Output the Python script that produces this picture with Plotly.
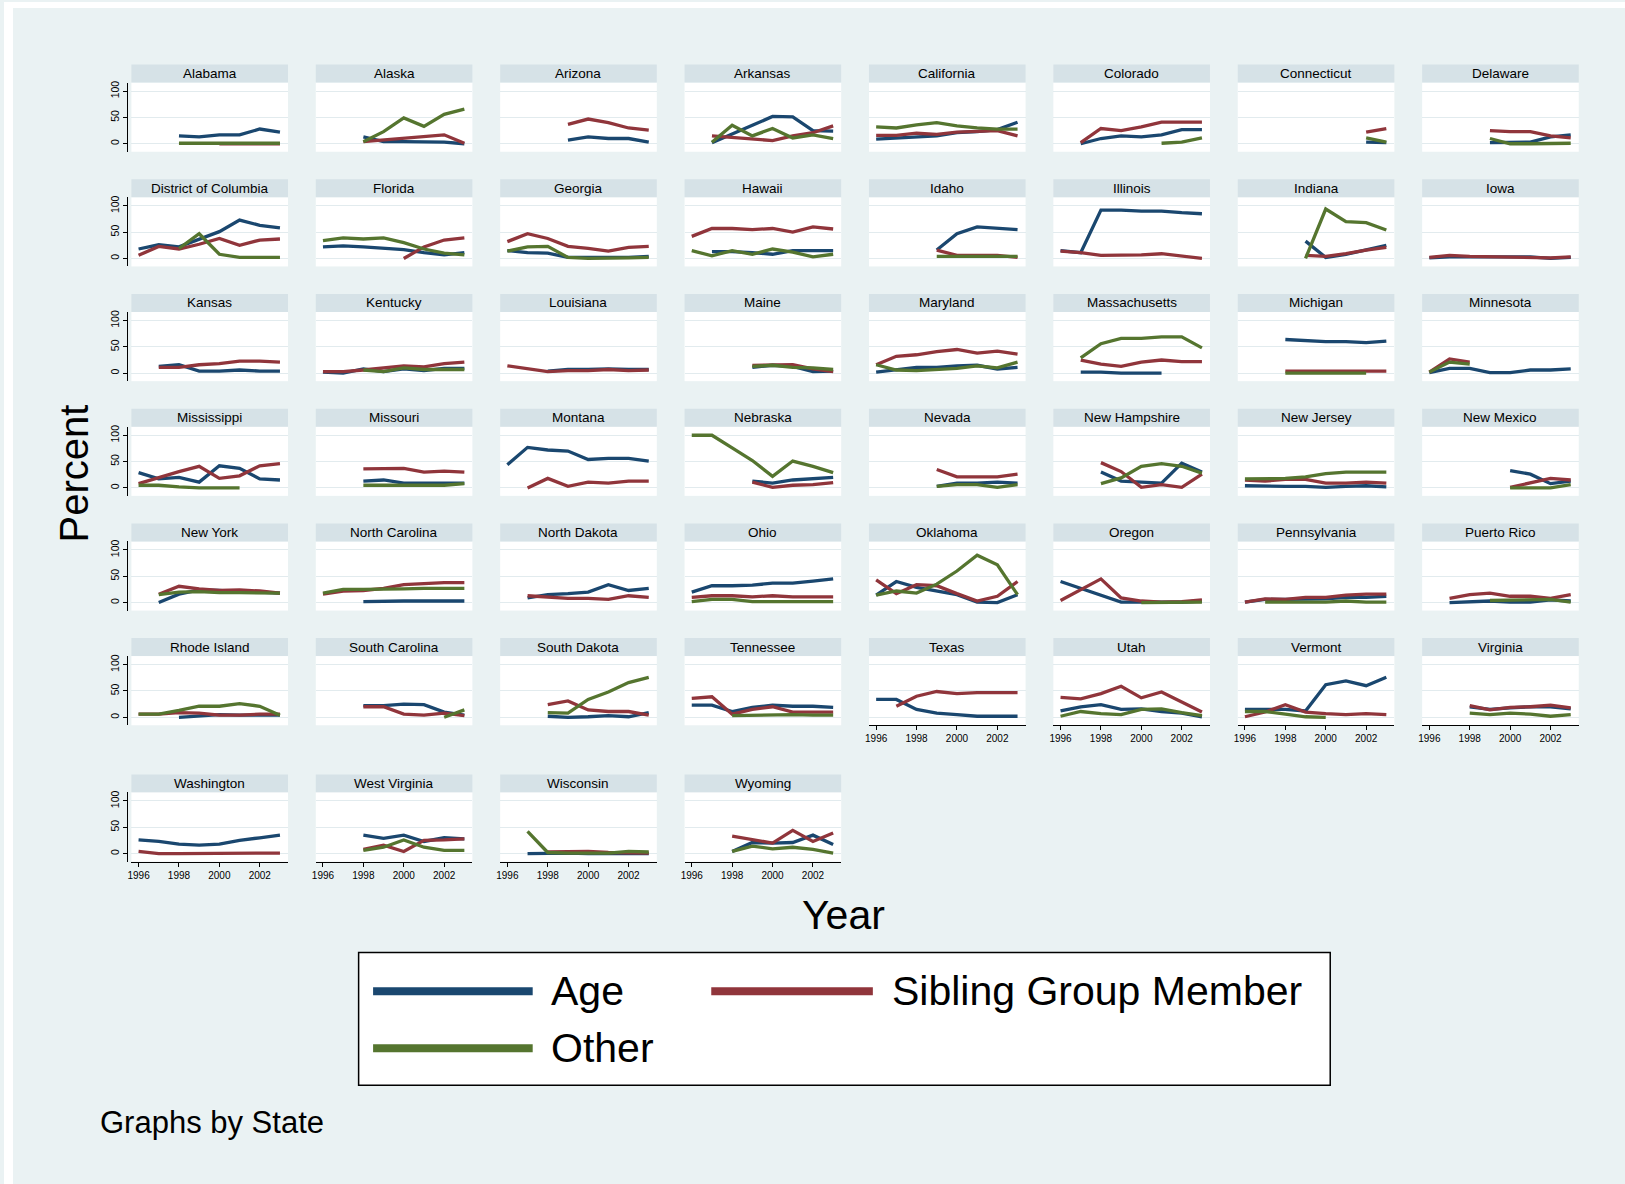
import plotly.graph_objects as go

N = None
YEARS = [1996, 1997, 1998, 1999, 2000, 2001, 2002, 2003]

STATES = [
    "Alabama", "Alaska", "Arizona", "Arkansas", "California", "Colorado", "Connecticut", "Delaware",
    "District of Columbia", "Florida", "Georgia", "Hawaii", "Idaho", "Illinois", "Indiana", "Iowa",
    "Kansas", "Kentucky", "Louisiana", "Maine", "Maryland", "Massachusetts", "Michigan", "Minnesota",
    "Mississippi", "Missouri", "Montana", "Nebraska", "Nevada", "New Hampshire", "New Jersey", "New Mexico",
    "New York", "North Carolina", "North Dakota", "Ohio", "Oklahoma", "Oregon", "Pennsylvania", "Puerto Rico",
    "Rhode Island", "South Carolina", "South Dakota", "Tennessee", "Texas", "Utah", "Vermont", "Virginia",
    "Washington", "West Virginia", "Wisconsin", "Wyoming",
]

# Percent of cases by reason, 1996-2003 (None = not reported)
AGE = {
    "Alabama": [N, N, 15, 13, 17, 17, 28, 22],
    "Alaska": [N, N, 13, 4, 4, 4, 3, 0],
    "Arizona": [N, N, N, 7, 13, 10, 10, 3],
    "Arkansas": [N, 2, 18, 35, 52, 51, 25, 24],
    "California": [9, 11, 13, 15, 21, 23, 27, 41],
    "Colorado": [N, 0, 10, 15, 13, 17, 27, 27],
    "Connecticut": [N, N, N, N, N, N, 3, 2],
    "Delaware": [N, N, N, 2, 3, 3, 13, 17],
    "District of Columbia": [18, 26, 22, 37, 51, 73, 63, 58],
    "Florida": [22, 24, 22, 20, 17, 11, 7, 11],
    "Georgia": [15, 11, 10, 2, 2, 2, 2, 4],
    "Hawaii": [N, 13, 13, 11, 8, 15, 15, 15],
    "Idaho": [N, N, N, 16, 47, 60, 57, 55],
    "Illinois": [15, 11, 92, 92, 90, 90, 87, 85],
    "Indiana": [N, N, N, 33, 2, 8, 17, 25],
    "Iowa": [1, 3, 3, 3, 3, 3, 0, 2],
    "Kansas": [N, 13, 16, 4, 4, 6, 4, 4],
    "Kentucky": [2, 0, 8, 3, 8, 5, 9, 9],
    "Louisiana": [N, N, 4, 7, 7, 8, 7, 7],
    "Maine": [N, N, N, 11, 15, 13, 3, 4],
    "Maryland": [2, 7, 11, 11, 14, 15, 8, 11],
    "Massachusetts": [N, 2, 2, 0, 0, 0, N, N],
    "Michigan": [N, N, 64, 62, 60, 60, 58, 61],
    "Minnesota": [1, 9, 9, 1, 1, 6, 6, 8],
    "Mississippi": [29, 17, 20, 11, 42, 37, 17, 15],
    "Missouri": [N, N, 13, 15, 9, 9, 9, 9],
    "Montana": [44, 77, 72, 70, 54, 56, 56, 51],
    "Nebraska": [N, N, N, 13, 9, 15, 18, 20],
    "Nevada": [N, N, N, 3, 9, 9, 11, 9],
    "New Hampshire": [N, N, 30, 13, 11, 9, 47, 30],
    "New Jersey": [4, 3, 3, 3, 1, 3, 4, 2],
    "New Mexico": [N, N, N, N, 33, 26, 8, 13],
    "New York": [N, 0, 16, 24, 23, 20, 20, 18],
    "North Carolina": [N, N, 2, 3, 3, 3, 3, 3],
    "North Dakota": [N, 9, 15, 17, 20, 34, 23, 27],
    "Ohio": [20, 32, 32, 33, 37, 37, 41, 45],
    "Oklahoma": [14, 40, 29, 22, 15, 1, 0, 15],
    "Oregon": [40, 27, 13, 1, 1, 1, 1, 3],
    "Pennsylvania": [1, 6, 6, 7, 7, 10, 10, 12],
    "Puerto Rico": [N, 0, 1, 3, 1, 1, 5, 3],
    "Rhode Island": [N, N, 0, 3, 5, 4, 4, 4],
    "South Carolina": [N, N, 22, 22, 25, 24, 10, 4],
    "South Dakota": [N, N, 2, 0, 1, 3, 1, 9],
    "Tennessee": [23, 23, 11, 19, 23, 21, 21, 19],
    "Texas": [34, 34, 15, 8, 5, 2, 2, 2],
    "Utah": [12, 20, 24, 15, 16, 11, 8, 1],
    "Vermont": [15, 15, 15, 12, 62, 69, 60, 76],
    "Virginia": [N, N, 20, 15, 18, 20, 20, 16],
    "Washington": [26, 23, 18, 16, 18, 25, 30, 35],
    "West Virginia": [N, N, 35, 29, 35, 23, 30, 28],
    "Wisconsin": [N, 0, 1, 1, 0, 0, 0, 0],
    "Wyoming": [N, N, 4, 21, 20, 21, 35, 17],
}

SIBLING = {
    "Alabama": [N, N, N, N, 0, 0, 0, 0],
    "Alaska": [N, N, 4, 7, 10, 13, 17, 1],
    "Arizona": [N, N, N, 37, 47, 40, 30, 26],
    "Arkansas": [N, 15, 12, 9, 6, 15, 21, 34],
    "California": [16, 16, 20, 18, 22, 23, 25, 15],
    "Colorado": [N, 2, 29, 25, 32, 41, 41, 41],
    "Connecticut": [N, N, N, N, N, N, 22, 29],
    "Delaware": [N, N, N, 25, 23, 23, 15, 11],
    "District of Columbia": [6, 23, 18, 27, 38, 25, 35, 37],
    "Florida": [N, N, N, N, 0, 22, 35, 39],
    "Georgia": [32, 47, 38, 23, 19, 14, 21, 23],
    "Hawaii": [42, 57, 57, 55, 57, 50, 60, 56],
    "Idaho": [N, N, N, 16, 6, 6, 6, 2],
    "Illinois": [14, 11, 6, 6, 7, 9, 4, 0],
    "Indiana": [N, N, N, 6, 4, 9, 16, 21],
    "Iowa": [2, 6, 4, 3, 3, 2, 1, 3],
    "Kansas": [N, 11, 11, 16, 18, 23, 23, 21],
    "Kentucky": [3, 3, 6, 10, 14, 12, 18, 21],
    "Louisiana": [14, 9, 3, 5, 5, 7, 5, 6],
    "Maine": [N, N, N, 15, 16, 16, 8, 3],
    "Maryland": [16, 32, 35, 41, 45, 38, 42, 36],
    "Massachusetts": [N, 25, 17, 13, 21, 25, 22, 22],
    "Michigan": [N, N, 4, 4, 4, 3, 4, 4],
    "Minnesota": [2, 27, 21, N, N, N, N, N],
    "Mississippi": [8, 20, 31, 41, 18, 23, 42, 46],
    "Missouri": [N, N, 36, 37, 37, 30, 32, 30],
    "Montana": [N, 0, 18, 3, 11, 9, 13, 13],
    "Nebraska": [N, N, N, 11, 1, 5, 6, 10],
    "Nevada": [N, N, N, 35, 21, 21, 21, 26],
    "New Hampshire": [N, N, 48, 31, 1, 6, 1, 26],
    "New Jersey": [15, 13, 16, 16, 9, 9, 11, 9],
    "New Mexico": [N, N, N, N, 1, 10, 18, 15],
    "New York": [N, 16, 31, 26, 23, 24, 22, 18],
    "North Carolina": [16, 22, 23, 27, 34, 36, 38, 38],
    "North Dakota": [N, 13, 10, 8, 8, 6, 13, 10],
    "Ohio": [10, 13, 13, 11, 13, 11, 11, 11],
    "Oklahoma": [43, 17, 34, 32, 17, 3, 12, 40],
    "Oregon": [4, 25, 45, 9, 3, 1, 2, 5],
    "Pennsylvania": [1, 7, 6, 10, 10, 14, 16, 16],
    "Puerto Rico": [N, 8, 15, 18, 12, 12, 8, 15],
    "Rhode Island": [6, 6, 9, 8, 4, 4, 6, 6],
    "South Carolina": [N, N, 20, 20, 6, 4, 8, 3],
    "South Dakota": [N, N, 24, 31, 14, 11, 11, 4],
    "Tennessee": [36, 39, 6, 15, 20, 10, 10, 10],
    "Texas": [N, 21, 40, 49, 45, 47, 47, 47],
    "Utah": [38, 35, 45, 59, 37, 48, 29, 10],
    "Vermont": [1, 10, 24, 10, 7, 5, 7, 5],
    "Virginia": [N, N, 22, 14, 19, 20, 23, 18],
    "Washington": [4, 0, 0, 0, 0, 0, 1, 1],
    "West Virginia": [N, N, 8, 16, 4, 25, 26, 28],
    "Wisconsin": [N, N, 3, 4, 4, 2, 1, 1],
    "Wyoming": [N, N, 33, 26, 20, 44, 23, 39],
}

OTHER = {
    "Alabama": [N, N, 1, 1, 1, 1, 1, 1],
    "Alaska": [N, N, 4, 23, 49, 33, 56, 66],
    "Arkansas": [N, 3, 35, 15, 29, 11, 17, 10],
    "California": [32, 30, 36, 40, 34, 30, 28, 28],
    "Colorado": [N, N, N, N, N, 1, 3, 11],
    "Connecticut": [N, N, N, N, N, N, 11, 3],
    "Delaware": [N, N, N, 10, 0, 0, 1, 1],
    "District of Columbia": [N, N, 19, 47, 8, 2, 2, 2],
    "Florida": [34, 39, 37, 39, 30, 18, 10, 7],
    "Georgia": [14, 22, 23, 2, 0, 0, 1, 2],
    "Hawaii": [15, 5, 15, 8, 18, 12, 3, 8],
    "Idaho": [N, N, N, 4, 4, 4, 4, 4],
    "Indiana": [N, N, N, 0, 94, 70, 68, 54],
    "Kentucky": [N, N, 6, 3, 10, 7, 7, 7],
    "Maine": [N, N, N, 13, 15, 11, 10, 7],
    "Maryland": [16, 6, 5, 7, 9, 14, 10, 21],
    "Massachusetts": [N, 29, 56, 66, 66, 69, 69, 48],
    "Michigan": [N, N, 0, 0, 0, 0, 0, N],
    "Minnesota": [2, 21, 17, N, N, N, N, N],
    "Mississippi": [5, 5, 2, 0, 0, 0, N, N],
    "Missouri": [N, N, 5, 5, 5, 5, 5, 8],
    "Nebraska": [100, 100, 76, 52, 22, 51, 41, 29],
    "Nevada": [N, N, N, 3, 6, 6, 1, 6],
    "New Hampshire": [N, N, 8, 19, 41, 46, 41, 28],
    "New Jersey": [17, 17, 18, 21, 27, 30, 30, 30],
    "New Mexico": [N, N, N, N, 0, 0, 0, 6],
    "New York": [N, 15, 20, 21, 19, 19, 19, 18],
    "North Carolina": [18, 25, 25, 25, 26, 27, 27, 27],
    "Ohio": [2, 6, 6, 2, 2, 2, 2, 2],
    "Oklahoma": [14, 22, 18, 35, 60, 90, 72, 15],
    "Oregon": [N, N, N, N, 0, 0, 0, 1],
    "Pennsylvania": [N, 1, 1, 1, 1, 3, 1, 1],
    "Puerto Rico": [N, N, N, 4, 5, 5, 6, 1],
    "Rhode Island": [6, 6, 13, 21, 21, 26, 21, 4],
    "South Carolina": [N, N, N, N, N, N, 0, 14],
    "South Dakota": [N, N, 9, 8, 34, 48, 66, 76],
    "Tennessee": [N, N, 3, 4, 4, 5, 4, 4],
    "Utah": [2, 11, 7, 5, 15, 16, 9, 3],
    "Vermont": [11, 11, 6, 1, 0, N, N, N],
    "Virginia": [N, N, 8, 5, 8, 6, 2, 5],
    "West Virginia": [N, N, 6, 12, 26, 12, 6, 6],
    "Wisconsin": [N, 42, 2, 1, 1, 1, 4, 3],
    "Wyoming": [N, N, 4, 14, 9, 12, 8, 1],
}

SERIES = [
    ("Age", AGE, "#1A476F"),
    ("Sibling Group Member", SIBLING, "#90353B"),
    ("Other", OTHER, "#55752F"),
]

X_TICKS = [1996, 1998, 2000, 2002]
Y_TICKS = [0, 50, 100]

# ---- page geometry (pixels) ----
W, H = 1625, 1184
BG = "#EAF2F3"
STRIP = "#D6E2E7"
GRID = "#E2EBEE"
FONT = "Liberation Sans, Arial, sans-serif"

NCOLS = 8
COL_LEFT0 = 127.7
COL_PITCH = 184.85
PANEL_W = 157.0
ROW_ZERO = [142 + 114.9 * r for r in range(6)] + [853.0]
ABOVE_ZERO = 61.3
BELOW_ZERO = 8.0
STRIP_H = 18.0
PX_PER_UNIT = 0.527
PX_PER_YEAR = 20.25
FIRST_TICK_OFFSET = 7.2
YAXIS_GAP = 4.0

Y_RANGE = [-BELOW_ZERO / PX_PER_UNIT, ABOVE_ZERO / PX_PER_UNIT]
X_RANGE = [1996 - FIRST_TICK_OFFSET / PX_PER_YEAR,
           1996 + (PANEL_W - FIRST_TICK_OFFSET) / PX_PER_YEAR]


def fx(px):
    return px / W


def fy(py):
    return 1 - py / H


n_states = len(STATES)
last_row_of_col = {}
for i in range(n_states):
    last_row_of_col[i % NCOLS] = i // NCOLS

fig = go.Figure()
layout = {}
shapes = []
annotations = []

for i, state in enumerate(STATES):
    r, c = divmod(i, NCOLS)
    n = i + 1
    sfx = "" if n == 1 else str(n)
    left = COL_LEFT0 + COL_PITCH * c
    right = left + PANEL_W
    zero = ROW_ZERO[r]
    top = zero - ABOVE_ZERO
    bottom = zero + BELOW_ZERO
    is_bottom = last_row_of_col[c] == r
    is_left = c == 0

    layout["xaxis" + sfx] = dict(
        domain=[fx(left), fx(right)], range=X_RANGE, anchor="y" + sfx,
        showgrid=False, zeroline=False, fixedrange=True,
        tickvals=X_TICKS, showticklabels=is_bottom,
        ticks="outside" if is_bottom else "", ticklen=4, tickcolor="#000",
        showline=is_bottom, linecolor="#000", linewidth=1,
        tickfont=dict(family=FONT, size=10, color="#000"),
    )
    yax = dict(
        domain=[fy(bottom), fy(top)], range=Y_RANGE,
        showgrid=True, gridcolor=GRID, gridwidth=1, zeroline=False, fixedrange=True,
        tickvals=Y_TICKS, showticklabels=is_left, tickangle=-90,
        ticks="outside" if is_left else "", ticklen=4, tickcolor="#000",
        showline=is_left, linecolor="#000", linewidth=1,
        tickfont=dict(family=FONT, size=10.5, color="#000"),
    )
    if is_left:
        # y axis sits just off the left edge of the plot region
        yax.update(anchor="free", position=fx(left - YAXIS_GAP))
    else:
        yax.update(anchor="x" + sfx)
    layout["yaxis" + sfx] = yax

    # strip heading
    shapes.append(dict(type="rect", xref="paper", yref="paper",
                       x0=fx(left), x1=fx(right), y0=fy(top), y1=fy(top - STRIP_H),
                       fillcolor=STRIP, line=dict(width=0), layer="above"))
    annotations.append(dict(text=state, xref="paper", yref="paper",
                            x=fx((left + right) / 2), y=fy(top - STRIP_H / 2),
                            xanchor="center", yanchor="middle", showarrow=False,
                            font=dict(family=FONT, size=13.5, color="#000")))

    for name, table, color in SERIES:
        vals = table.get(state)
        if vals is None:
            continue
        fig.add_trace(go.Scatter(
            x=YEARS, y=vals, mode="lines", name=name, showlegend=False,
            connectgaps=False, hoverinfo="skip",
            line=dict(color=color, width=3.3),
            xaxis="x" + sfx, yaxis="y" + sfx,
        ))

# white page edge around the shaded graph region
shapes.append(dict(type="rect", xref="paper", yref="paper", x0=0, x1=fx(9), y0=0, y1=1,
                   fillcolor="#FFFFFF", line=dict(width=0), layer="below"))
shapes.append(dict(type="rect", xref="paper", yref="paper", x0=0, x1=1, y0=fy(6), y1=1,
                   fillcolor="#FFFFFF", line=dict(width=0), layer="below"))

# axis titles and note
annotations.append(dict(text="Percent", xref="paper", yref="paper", x=fx(70.5), y=fy(472),
                        textangle=-90, xanchor="center", yanchor="middle", showarrow=False,
                        font=dict(family=FONT, size=40, color="#000")))
annotations.append(dict(text="Year", xref="paper", yref="paper", x=fx(841.5), y=fy(915),
                        xanchor="center", yanchor="middle", showarrow=False,
                        font=dict(family=FONT, size=41, color="#000")))
annotations.append(dict(text="Graphs by State", xref="paper", yref="paper", x=fx(94), y=fy(1122),
                        xanchor="left", yanchor="middle", showarrow=False,
                        font=dict(family=FONT, size=31, color="#000")))

# key
shapes.append(dict(type="rect", xref="paper", yref="paper",
                   x0=fx(355.5), x1=fx(1329.5), y0=fy(1085), y1=fy(952),
                   fillcolor="#FFFFFF", line=dict(color="#000", width=1.5), layer="above"))
key_items = [
    (SERIES[0], 370, 530, 991, 546),
    (SERIES[1], 709, 871, 991, 888),
    (SERIES[2], 370, 530, 1048, 546),
]
for (name, _table, color), x0, x1, yk, xt in key_items:
    shapes.append(dict(type="line", xref="paper", yref="paper",
                       x0=fx(x0), x1=fx(x1), y0=fy(yk), y1=fy(yk),
                       line=dict(color=color, width=8), layer="above"))
    annotations.append(dict(text=name, xref="paper", yref="paper", x=fx(xt), y=fy(yk),
                            xanchor="left", yanchor="middle", showarrow=False,
                            font=dict(family=FONT, size=41, color="#000")))

fig.update_layout(
    width=W, height=H, autosize=False,
    margin=dict(l=0, r=0, t=0, b=0, pad=0),
    paper_bgcolor=BG, plot_bgcolor="#FFFFFF",
    showlegend=False, shapes=shapes, annotations=annotations,
    **layout,
)

fig.write_html("out.html", config={"displayModeBar": False})
